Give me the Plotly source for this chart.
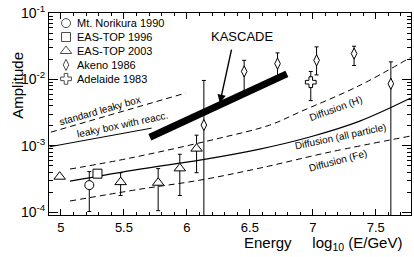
import numpy as np
import plotly.graph_objects as go

FONT = "Liberation Sans, Arial, sans-serif"

# ---------------- data ----------------
series_names = ["Mt. Norikura 1990", "EAS-TOP 1996", "EAS-TOP 2003", "Akeno 1986", "Adelaide 1983"]

nori_x = [5.225]
nori_y = [2.57e-4]
nori_up = [4.1e-4]
nori_dn = [1.03e-4]

eas96_x = [5.29]
eas96_y = [3.82e-4]

eas03_x = [4.99, 5.474, 5.772, 5.944, 6.077]
eas03_y = [3.44e-4, 2.85e-4, 2.79e-4, 4.59e-4, 9.1e-4]
eas03_up = [3.44e-4, 3.95e-4, 4.55e-4, 7.48e-4, 1.45e-3]
eas03_dn = [3.44e-4, 1.79e-4, 1.06e-4, 1.79e-4, 3.95e-4]

akeno_x = [6.135, 6.455, 6.72, 7.03, 7.328, 7.62]
akeno_y = [2.06e-3, 1.32e-2, 1.73e-2, 1.94e-2, 2.45e-2, 8.6e-3]
akeno_up = [9.66e-3, 1.94e-2, 2.51e-2, 3.09e-2, 3.16e-2, 1.84e-2]
akeno_dn = [5e-5, 6.07e-3, 1.1e-2, 1.17e-2, 1.62e-2, 5e-5]

adel_x = [6.984]
adel_y = [9.1e-3]
adel_up = [1.32e-2]
adel_dn = [4.8e-3]

# model curves
slb_x = [4.92, 5.99]
slb_y = [1.61e-3, 6.24e-3]

lbr_x = [4.91, 5.72]
lbr_y = [9.7e-4, 1.85e-3]

difH_x = [5.071, 5.548, 6.262, 6.659, 6.897, 7.365, 7.778]
difH_y = [4.48e-4, 6.55e-4, 1.31e-3, 2.06e-3, 3.24e-3, 8.0e-3, 2.15e-2]

difA_x = [5.071, 5.627, 6.103, 6.579, 6.976, 7.373, 7.778]
difA_y = [2.95e-4, 4.48e-4, 6.11e-4, 8.95e-4, 1.36e-3, 2.36e-3, 5.25e-3]

difFe_x = [5.071, 5.627, 6.103, 6.579, 7.135, 7.778]
difFe_y = [1.48e-4, 2.23e-4, 3.05e-4, 4.63e-4, 8.07e-4, 1.41e-3]

kas_x = [5.706, 6.794]
kas_y = [1.35e-3, 1.215e-2]

x_ticks = [5, 5.5, 6, 6.5, 7, 7.5]
x_ticklabels = ["5", "5.5", "6", "6.5", "7", "7.5"]
y_ticks = [1e-4, 1e-3, 1e-2, 1e-1]
y_ticklabels = ["10<sup>-4</sup>", "10<sup>-3</sup>", "10<sup>-2</sup>", "10<sup>-1</sup>"]

# ---------------- figure ----------------
fig = go.Figure()

def err(y, up, dn):
    y = np.array(y); up = np.array(up); dn = np.array(dn)
    return dict(type="data", array=up - y, arrayminus=y - dn, symmetric=False,
                color="black", thickness=1, width=2)

# curves
dash = "6px,4px"
fig.add_trace(go.Scatter(x=slb_x, y=slb_y, mode="lines", line=dict(color="black", width=1, dash=dash)))
fig.add_trace(go.Scatter(x=lbr_x, y=lbr_y, mode="lines", line=dict(color="black", width=1)))
fig.add_trace(go.Scatter(x=difH_x, y=difH_y, mode="lines", line=dict(color="black", width=1, dash=dash, shape="spline")))
fig.add_trace(go.Scatter(x=difA_x, y=difA_y, mode="lines", line=dict(color="black", width=1.2, shape="spline")))
fig.add_trace(go.Scatter(x=difFe_x, y=difFe_y, mode="lines", line=dict(color="black", width=1, dash=dash, shape="spline")))
fig.add_trace(go.Scatter(x=kas_x, y=kas_y, mode="lines", line=dict(color="black", width=7)))

mk = dict(color="white", line=dict(color="black", width=1))
fig.add_trace(go.Scatter(x=nori_x, y=nori_y, mode="markers", error_y=err(nori_y, nori_up, nori_dn),
                         marker=dict(symbol="circle", size=9, **mk)))
fig.add_trace(go.Scatter(x=eas96_x, y=eas96_y, mode="markers",
                         marker=dict(symbol="square", size=9, **mk)))
fig.add_trace(go.Scatter(x=eas03_x, y=eas03_y, mode="markers", error_y=err(eas03_y, eas03_up, eas03_dn),
                         marker=dict(symbol="triangle-up", size=10, **mk)))
fig.add_trace(go.Scatter(x=akeno_x, y=akeno_y, mode="markers", error_y=err(akeno_y, akeno_up, akeno_dn),
                         marker=dict(symbol="diamond-tall", size=8, **mk)))
fig.add_trace(go.Scatter(x=adel_x, y=adel_y, mode="markers", error_y=err(adel_y, adel_up, adel_dn),
                         marker=dict(symbol="cross", size=9, **mk)))

# manual legend on an overlay axis spanning the plot area
leg_symbols = ["circle", "square", "triangle-up", "diamond-tall", "cross"]
leg_sizes = [9, 9, 10, 8, 9]
leg_top, leg_step = 0.95, 0.069
leg_rows = [leg_top - i * leg_step for i in range(len(series_names))]
fig.add_trace(go.Scatter(x=[0.047] * len(series_names), y=leg_rows, mode="markers",
                         xaxis="x2", yaxis="y2",
                         marker=dict(symbol=leg_symbols, size=leg_sizes, color="white",
                                     line=dict(color="black", width=1))))

annotations = []
for name, yy in zip(series_names, leg_rows):
    annotations.append(dict(xref="paper", yref="paper", x=0.072, y=yy, text=name, showarrow=False,
                            xanchor="left", yanchor="middle", font=dict(size=11, family=FONT, color="black")))

# line labels (positions in data coords; log axis uses log10 for y)
def lab(text, v, a, ang, size=10):
    annotations.append(dict(xref="x", yref="y", x=v, y=np.log10(a), text=text, showarrow=False,
                            textangle=ang, font=dict(size=size, family=FONT, color="black")))

lab("standard leaky box", 5.31, 3.4e-3, -16)
lab("leaky box with reacc.", 5.49, 2.13e-3, -12)
lab("Diffusion (H)", 7.18, 3.7e-3, -20)
lab("Diffusion (all particle)", 7.22, 1.38e-3, -12)
lab("Diffusion (Fe)", 7.20, 6.1e-4, -15)

# KASCADE label and arrow
annotations.append(dict(xref="x", yref="y", x=6.437, y=np.log10(4.5e-2), text="KASCADE", showarrow=False,
                        font=dict(size=13, family=FONT, color="black")))
annotations.append(dict(xref="x", yref="y", x=6.262, y=np.log10(4.42e-3),
                        axref="x", ayref="y", ax=6.357, ay=np.log10(2.97e-2),
                        text="", showarrow=True, arrowhead=2, arrowsize=1.2, arrowwidth=1.4,
                        arrowcolor="black"))

# axis titles
annotations.append(dict(xref="paper", yref="paper", x=-0.115, y=0.82, text="Amplitude", showarrow=False,
                        textangle=-90, font=dict(size=15, family=FONT, color="black")))
annotations.append(dict(xref="paper", yref="paper", x=0.758, y=-0.139, xanchor="center", yanchor="middle",
                        text="Energy&nbsp;&nbsp;&nbsp;&nbsp;&nbsp;log<sub>10</sub> (E/GeV)", showarrow=False,
                        font=dict(size=15, family=FONT, color="black")))

minor_y = [k * 10.0 ** e for e in (-4, -3, -2) for k in range(2, 10)]

fig.update_layout(
    width=414, height=257,
    margin=dict(l=49, r=3, t=13, b=42, autoexpand=False),
    paper_bgcolor="white", plot_bgcolor="white",
    showlegend=False,
    font=dict(family=FONT, color="black"),
    annotations=annotations,
    xaxis=dict(range=[4.905, 7.78], tickvals=x_ticks, ticktext=x_ticklabels, automargin=False,
               ticks="inside", ticklen=6, tickwidth=1, tickcolor="black",
               minor=dict(ticks="inside", ticklen=3, dtick=0.1, tick0=5, tickcolor="black"),
               showline=True, linecolor="black", linewidth=1, mirror="allticks",
               showgrid=False, zeroline=False, tickfont=dict(size=13, family=FONT)),
    yaxis=dict(type="log", range=[-4.04, -1.0], tickvals=y_ticks, ticktext=y_ticklabels, automargin=False,
               ticks="inside", ticklen=9, tickwidth=1, tickcolor="black",
               minor=dict(ticks="inside", ticklen=4, tickvals=minor_y, tickcolor="black"),
               showline=True, linecolor="black", linewidth=1, mirror="allticks",
               showgrid=False, zeroline=False, tickfont=dict(size=14, family=FONT)),
    xaxis2=dict(overlaying="x", range=[0, 1], visible=False, anchor="y2"),
    yaxis2=dict(overlaying="y", range=[0, 1], visible=False, anchor="x2"),
)

fig.write_html("out.html", config={"displayModeBar": False},
               post_script="document.body.style.margin='0';document.body.style.overflow='hidden';")
